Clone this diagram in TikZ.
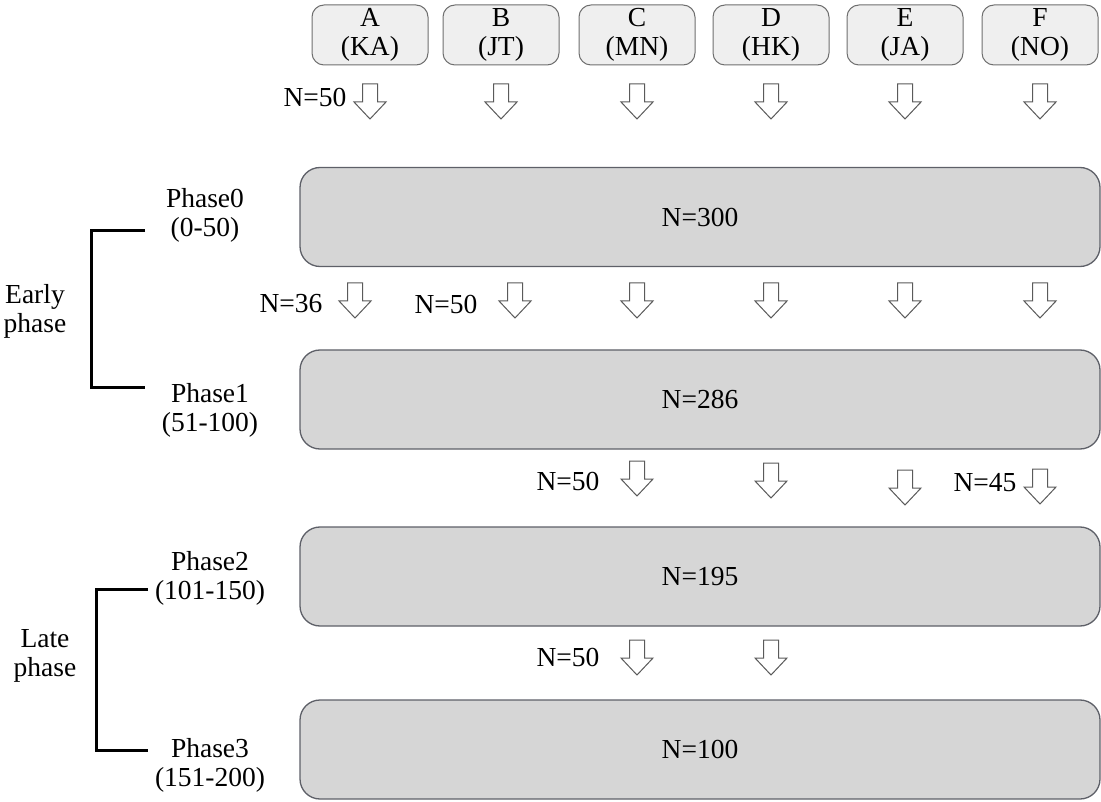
\documentclass[tikz,border=0pt]{standalone}
\usepackage{fontspec}
\setmainfont{Liberation Serif}
\newcommand\dfont{\fontsize{27.5}{29}\selectfont}
\definecolor{topfill}{HTML}{EFEFEF}
\definecolor{topline}{HTML}{6E6E6E}
\definecolor{bigfill}{HTML}{D6D6D6}
\definecolor{bigline}{HTML}{5E6068}
\definecolor{arrline}{HTML}{5A5A5A}
\tikzset{
  topbox/.style={draw=topline, fill=topfill, rounded corners=12pt, minimum width=116pt, minimum height=60pt, align=center, font=\dfont, line width=1pt, inner sep=0pt},
  bigbox/.style={draw=bigline, fill=bigfill, rounded corners=20pt, minimum width=800pt, minimum height=99pt, font=\dfont, line width=1.3pt},
  lbl/.style={font=\dfont, align=center, inner sep=0pt},
  blockarrow/.style={draw=arrline, fill=white, line width=1pt, line join=miter},
  brk/.style={draw=black, line width=3pt},
  downarrow/.pic={\draw[blockarrow] (-7.5,0) -- (-7.5,18) -- (-16,18) -- (0,35) -- (16,18) -- (7.5,18) -- (7.5,0) -- cycle;}
}
\begin{document}
\begin{tikzpicture}[x=1pt,y=-1pt]
\useasboundingbox (0,0) rectangle (1101,802);
% top boxes
\node[topbox] (A) at (370,35) {A\\(KA)};
\node[topbox] (B) at (501,35) {B\\(JT)};
\node[topbox] (C) at (637,35) {C\\(MN)};
\node[topbox] (D) at (771,35) {D\\(HK)};
\node[topbox] (E) at (905,35) {E\\(JA)};
\node[topbox] (F) at (1040,35) {F\\(NO)};
% big boxes
\node[bigbox] (P0) at (700,217) {N=300};
\node[bigbox] (P1) at (700,399.5) {N=286};
\node[bigbox] (P2) at (700,576.5) {N=195};
\node[bigbox] (P3) at (700,749.5) {N=100};
% row 1 arrows
\node[lbl] (n1) at (315,97) {N=50};
\foreach \x in {370,501,637,771,905,1040} \pic at (\x,84) {downarrow};
% row 2 arrows
\node[lbl] (n2a) at (291,304) {N=36};
\node[lbl] (n2b) at (446,304) {N=50};
\foreach \x in {355,515,637,771,905,1040} \pic at (\x,283) {downarrow};
% row 3 arrows
\node[lbl] (n3a) at (568,481) {N=50};
\node[lbl] (n3b) at (985,483) {N=45};
\pic at (637,461) {downarrow};
\pic at (771,463) {downarrow};
\pic at (905,470) {downarrow};
\pic at (1040,469) {downarrow};
% row 4 arrows
\node[lbl] (n4) at (568,657) {N=50};
\pic at (637,640) {downarrow};
\pic at (771,640) {downarrow};
% left labels
\node[lbl] (ph0) at (205,215) {Phase0\\(0-50)};
\node[lbl] (ph1) at (210,410) {Phase1\\(51-100)};
\node[lbl] (ph2) at (210,578) {Phase2\\(101-150)};
\node[lbl] (ph3) at (210,765) {Phase3\\(151-200)};
\node[lbl] (early) at (35,311) {Early\\phase};
\node[lbl] (late) at (45,656) {Late\\phase};
% brackets
\coordinate (b0a) at (145,231);
\coordinate (b0b) at (145,388);
\coordinate (b1a) at (148,589);
\coordinate (b1b) at (148,750);
\draw[brk] (b0a) -- (91,231) -- (91,388) -- (b0b);
\draw[brk] (b1a) -- (96,589) -- (96,750) -- (b1b);
\end{tikzpicture}
\end{document}
